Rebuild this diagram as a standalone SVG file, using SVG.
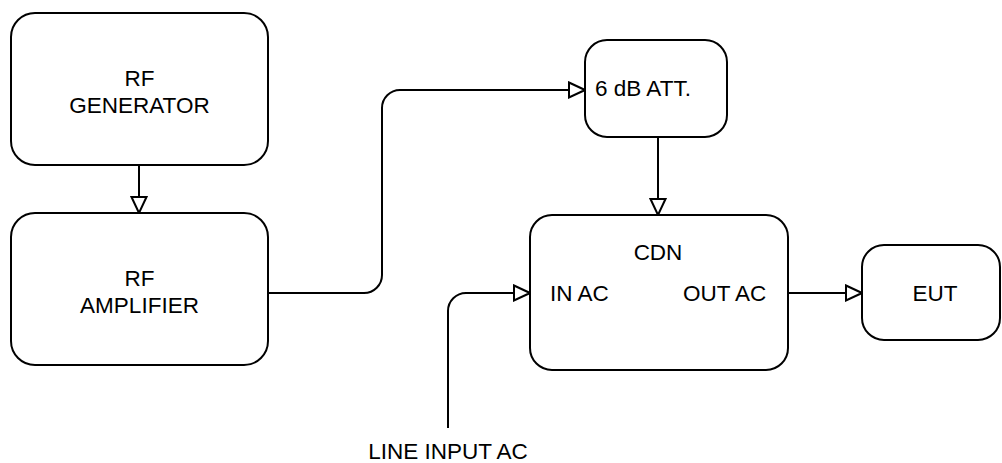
<svg xmlns="http://www.w3.org/2000/svg" width="1002" height="463" viewBox="0 0 1002 463">
<style>
.box{fill:#fff;stroke:#000;stroke-width:2}
.conn{fill:none;stroke:#000;stroke-width:2;marker-end:url(#arr)}
text{font-family:"Liberation Sans",Arial,sans-serif;font-size:22.5px;fill:#000}
.c{text-anchor:middle}
</style>
<defs>
<marker id="arr" viewBox="0 0 18 18" refX="17" refY="9" markerWidth="18" markerHeight="18" markerUnits="userSpaceOnUse" orient="auto">
<path d="M1,1.5 L17,9 L1,16.5 Z" fill="#fff" stroke="#000" stroke-width="2"/>
</marker>
</defs>
<rect width="1002" height="463" fill="#fff"/>
<g id="connectors">
<path class="conn" d="M139,165 V213"/>
<path class="conn" d="M268,293 H364 A18,18 0 0 0 382,275 V108 A18,18 0 0 1 400,90 H585"/>
<path class="conn" d="M658,137 V215"/>
<path class="conn" d="M788,293 H862"/>
<path class="conn" d="M448,428 V311 A18,18 0 0 1 466,293 H530"/>
</g>
<g id="rf-generator">
<rect class="box" x="11" y="13" width="257" height="152" rx="24"/>
<text class="c" x="139.5" y="86">RF</text>
<text class="c" x="139.5" y="113">GENERATOR</text>
</g>
<g id="rf-amplifier">
<rect class="box" x="11" y="213" width="257" height="152" rx="24"/>
<text class="c" x="139.5" y="286">RF</text>
<text class="c" x="139.5" y="313">AMPLIFIER</text>
</g>
<g id="attenuator">
<rect class="box" x="585" y="40" width="142" height="97" rx="22"/>
<text x="595" y="96">6 dB ATT.</text>
</g>
<g id="cdn">
<rect class="box" x="530" y="215" width="258" height="155" rx="22"/>
<text class="c" x="658" y="260">CDN</text>
<text x="550" y="301">IN AC</text>
<text x="683" y="301">OUT AC</text>
</g>
<g id="eut">
<rect class="box" x="862" y="245" width="138" height="95" rx="22"/>
<text class="c" x="935" y="301">EUT</text>
</g>
<g id="line-input">
<text class="c" x="448" y="459">LINE INPUT AC</text>
</g>
</svg>
